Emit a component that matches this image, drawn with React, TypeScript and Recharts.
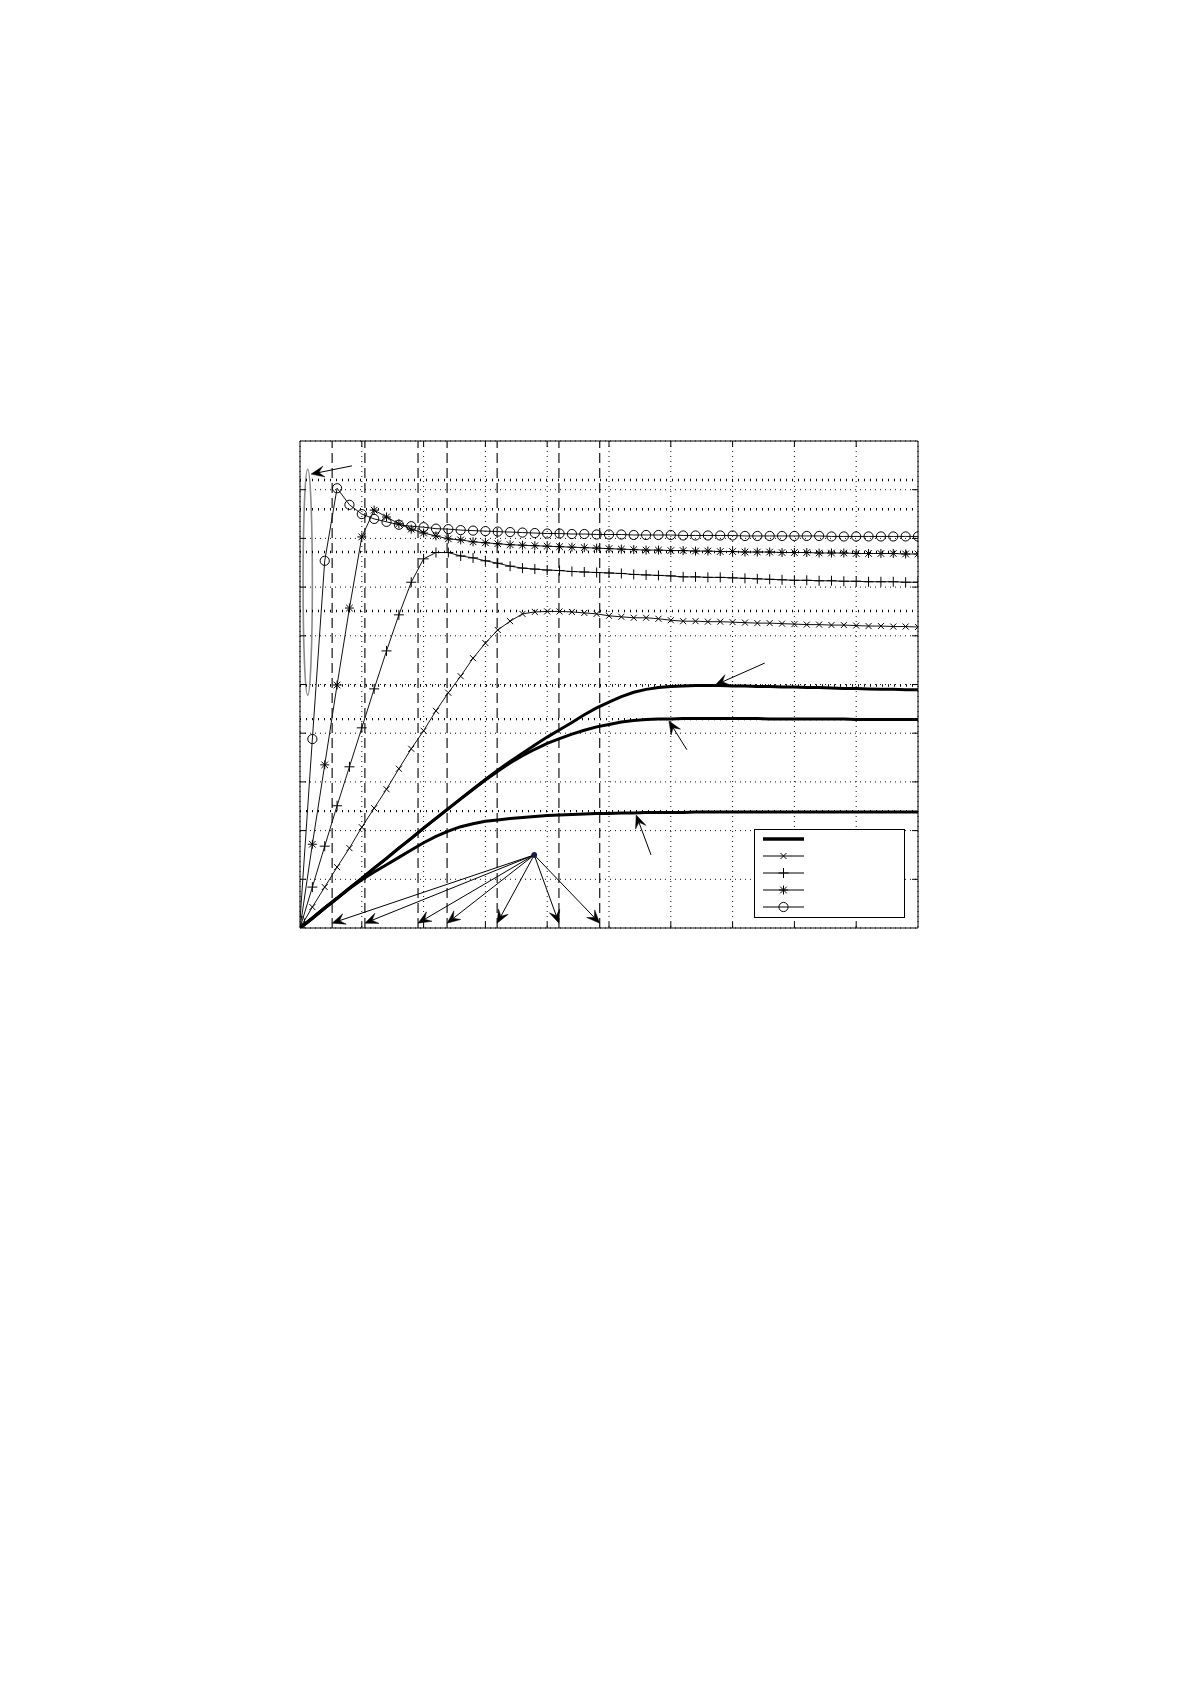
import React from 'react'
import {
  LineChart,
  Line,
  XAxis,
  YAxis,
  CartesianGrid,
  ReferenceLine,
  ReferenceArea,
  ReferenceDot,
  Legend,
} from 'recharts'

// sample instants (x axis units)
const timeSteps = [
  0, 0.2, 0.4, 0.6, 0.8, 1, 1.2, 1.4, 1.6, 1.8,
  2, 2.2, 2.4, 2.6, 2.8, 3, 3.2, 3.4, 3.6, 3.8,
  4, 4.2, 4.4, 4.6, 4.8, 5, 5.2, 5.4, 5.6, 5.8,
  6, 6.2, 6.4, 6.6, 6.8, 7, 7.2, 7.4, 7.6, 7.8,
  8, 8.2, 8.4, 8.6, 8.8, 9, 9.2, 9.4, 9.6, 9.8,
  10,
]

const thickA = [
  0, 0.2, 0.41, 0.61, 0.82, 1.02, 1.23, 1.43, 1.64, 1.84,
  2.05, 2.25, 2.45, 2.65, 2.85, 3.05, 3.24, 3.42, 3.59, 3.76,
  3.92, 4.07, 4.22, 4.38, 4.52, 4.64, 4.75, 4.84, 4.9, 4.94,
  4.96, 4.97, 4.98, 4.98, 4.98, 4.97, 4.97, 4.96, 4.96, 4.95,
  4.95, 4.94, 4.94, 4.93, 4.92, 4.92, 4.91, 4.9, 4.9, 4.89,
  4.89,
]

const thickB = [
  0, 0.2, 0.41, 0.61, 0.82, 1.02, 1.23, 1.43, 1.64, 1.84,
  2.05, 2.25, 2.45, 2.65, 2.85, 3.04, 3.22, 3.39, 3.54, 3.67,
  3.79, 3.89, 3.98, 4.06, 4.13, 4.18, 4.23, 4.26, 4.28, 4.29,
  4.29, 4.3, 4.3, 4.3, 4.3, 4.3, 4.3, 4.3, 4.29, 4.29,
  4.29, 4.29, 4.29, 4.29, 4.29, 4.28, 4.28, 4.28, 4.28, 4.28,
  4.28,
]

const thickC = [
  0, 0.2, 0.41, 0.61, 0.81, 0.99, 1.15, 1.3, 1.45, 1.6,
  1.75, 1.88, 1.99, 2.08, 2.14, 2.19, 2.22, 2.25, 2.27, 2.29,
  2.31, 2.32, 2.33, 2.34, 2.35, 2.35, 2.36, 2.36, 2.37, 2.37,
  2.37, 2.37, 2.38, 2.38, 2.38, 2.38, 2.38, 2.38, 2.38, 2.38,
  2.38, 2.38, 2.38, 2.38, 2.38, 2.38, 2.38, 2.38, 2.38, 2.38,
  2.38,
]

const crossSeries = [
  0, 0.43, 0.84, 1.25, 1.64, 2.07, 2.46, 2.85, 3.27, 3.68,
  4.05, 4.46, 4.83, 5.17, 5.54, 5.85, 6.12, 6.3, 6.45, 6.49,
  6.5, 6.5, 6.49, 6.47, 6.45, 6.41, 6.39, 6.37, 6.37, 6.35,
  6.32, 6.3, 6.3, 6.29, 6.29, 6.28, 6.27, 6.26, 6.26, 6.25,
  6.24, 6.23, 6.23, 6.22, 6.22, 6.21, 6.2, 6.2, 6.19, 6.19,
  6.18,
]

const plusSeries = [
  0, 0.84, 1.68, 2.51, 3.31, 4.11, 4.91, 5.69, 6.43, 7.1,
  7.58, 7.71, 7.71, 7.64, 7.6, 7.54, 7.49, 7.43, 7.39, 7.37,
  7.35, 7.34, 7.32, 7.31, 7.3, 7.29, 7.28, 7.26, 7.25, 7.24,
  7.23, 7.21, 7.21, 7.2, 7.2, 7.19, 7.18, 7.17, 7.16, 7.15,
  7.14, 7.14, 7.13, 7.13, 7.12, 7.12, 7.11, 7.11, 7.11, 7.1,
  7.1,
]

const starSeries = [
  0, 1.72, 3.35, 4.99, 6.57, 8.03, 8.58, 8.44, 8.3, 8.19,
  8.11, 8.05, 7.99, 7.97, 7.93, 7.91, 7.89, 7.87, 7.86, 7.85,
  7.84, 7.83, 7.82, 7.81, 7.8, 7.79, 7.78, 7.77, 7.76, 7.76,
  7.75, 7.75, 7.74, 7.74, 7.73, 7.73, 7.72, 7.72, 7.72, 7.71,
  7.71, 7.71, 7.7, 7.7, 7.7, 7.69, 7.69, 7.69, 7.69, 7.68,
  7.68,
]

const circleSeries = [
  0.15, 3.88, 7.54, 9.03, 8.69, 8.5, 8.4, 8.34, 8.28, 8.25,
  8.23, 8.2, 8.19, 8.17, 8.16, 8.15, 8.14, 8.13, 8.12, 8.11,
  8.1, 8.1, 8.09, 8.09, 8.08, 8.08, 8.08, 8.07, 8.07, 8.07,
  8.07, 8.06, 8.06, 8.06, 8.06, 8.06, 8.05, 8.05, 8.05, 8.05,
  8.05, 8.05, 8.05, 8.04, 8.04, 8.04, 8.04, 8.04, 8.04, 8.04,
  8.04,
]

const xTicks = [0, 1, 2, 3, 4, 5, 6, 7, 8, 9, 10]
const yTicks = [0, 1, 2, 3, 4, 5, 6, 7, 8, 9, 10]

// levels reached by each curve (fine dotted lines)
const peakLevels = [9.2, 8.6, 7.72, 6.51, 4.98, 4.29, 2.4]
// switching instants (dashed verticals)
const switchTimes = [0.52, 1.05, 1.91, 2.38, 3.19, 4.19, 4.85]
const hub = { x: 3.79, y: 1.5 }
const hubTipY = 0.1

const curvePointers = [
  { from: { x: 7.52, y: 5.44 }, to: { x: 6.72, y: 4.99 } },
  { from: { x: 6.26, y: 3.66 }, to: { x: 5.97, y: 4.25 } },
  { from: { x: 5.68, y: 1.5 }, to: { x: 5.44, y: 2.32 } },
  { from: { x: 0.84, y: 9.49 }, to: { x: 0.18, y: 9.32 } },
]

const spikeEllipse = { x1: 0.05, x2: 0.2, y1: 4.78, y2: 9.42 }

type MarkerKind = 'thick' | 'x' | 'plus' | 'star' | 'circle'

const legendItems: MarkerKind[] = ['thick', 'x', 'plus', 'star', 'circle']

const chartData = timeSteps.map((t, i) => ({
  t,
  a: thickA[i],
  b: thickB[i],
  c: thickC[i],
  x: crossSeries[i],
  p: plusSeries[i],
  s: starSeries[i],
  o: circleSeries[i],
}))

const ink = '#000'

function MarkerGlyph({ kind, cx, cy }: { kind: MarkerKind; cx: number; cy: number }) {
  if (kind === 'x') {
    const h = 3
    return (
      <path
        d={`M${cx - h},${cy - h}L${cx + h},${cy + h}M${cx - h},${cy + h}L${cx + h},${cy - h}`}
        stroke={ink}
        strokeWidth={1}
        fill="none"
      />
    )
  }
  if (kind === 'plus') {
    const h = 5
    return (
      <path d={`M${cx - h},${cy}L${cx + h},${cy}M${cx},${cy - h}L${cx},${cy + h}`} stroke={ink} strokeWidth={1} fill="none" />
    )
  }
  if (kind === 'star') {
    const h = 4.5
    const d = 3.3
    return (
      <path
        d={`M${cx - h},${cy}L${cx + h},${cy}M${cx},${cy - h}L${cx},${cy + h}M${cx - d},${cy - d}L${cx + d},${cy + d}M${cx - d},${cy + d}L${cx + d},${cy - d}`}
        stroke={ink}
        strokeWidth={1}
        fill="none"
      />
    )
  }
  if (kind === 'circle') {
    return <circle cx={cx} cy={cy} r={4.6} stroke={ink} strokeWidth={1} fill="none" />
  }
  return null
}

const makeDot = (kind: MarkerKind) => (props: any) => {
  const { cx, cy, index } = props
  if (cx == null || cy == null) return <g key={`${kind}-${index}`} />
  return (
    <g key={`${kind}-${index}`}>
      <MarkerGlyph kind={kind} cx={cx} cy={cy} />
    </g>
  )
}

// annotation arrow with a swept-back head
const arrowShape = (props: any) => {
  const { x1, y1, x2, y2 } = props
  const dx = x2 - x1
  const dy = y2 - y1
  const len = Math.hypot(dx, dy) || 1
  const ux = dx / len
  const uy = dy / len
  const L = 13
  const W = 5.5
  const bx = x2 - ux * L
  const by = y2 - uy * L
  const nx = x2 - ux * L * 0.6
  const ny = y2 - uy * L * 0.6
  const px = -uy
  const py = ux
  const pts = `${x2},${y2} ${bx + px * W},${by + py * W} ${nx},${ny} ${bx - px * W},${by - py * W}`
  return (
    <g>
      <line x1={x1} y1={y1} x2={nx} y2={ny} stroke={ink} strokeWidth={1} />
      <polygon points={pts} fill={ink} stroke={ink} strokeWidth={0.5} />
    </g>
  )
}

// inward tick marks at both ends of a vertical / horizontal line
const xTickShape = (props: any) => {
  const { x1, y1, y2 } = props
  const top = Math.min(y1, y2)
  const bottom = Math.max(y1, y2)
  return (
    <g>
      <line x1={x1} x2={x1} y1={top} y2={top + 6} stroke={ink} strokeWidth={1} />
      <line x1={x1} x2={x1} y1={bottom - 6} y2={bottom} stroke={ink} strokeWidth={1} />
    </g>
  )
}

const yTickShape = (props: any) => {
  const { x1, x2, y1 } = props
  const left = Math.min(x1, x2)
  const right = Math.max(x1, x2)
  return (
    <g>
      <line x1={left} x2={left + 6} y1={y1} y2={y1} stroke={ink} strokeWidth={1} />
      <line x1={right - 6} x2={right} y1={y1} y2={y1} stroke={ink} strokeWidth={1} />
    </g>
  )
}

const ellipseShape = (props: any) => {
  const { x, y, width, height } = props
  return (
    <ellipse
      cx={x + width / 2}
      cy={y + height / 2}
      rx={Math.abs(width) / 2}
      ry={Math.abs(height) / 2}
      fill="none"
      stroke="#8a8a8a"
      strokeWidth={1.6}
    />
  )
}

const LegendBox = () => (
  <svg width={151} height={89} style={{ display: 'block' }}>
    <rect x={0.5} y={0.5} width={150} height={88} fill="#fff" stroke={ink} strokeWidth={1} />
    {legendItems.map((kind, i) => {
      const y = 10 + i * 17
      return (
        <g key={kind}>
          <line x1={9} x2={50} y1={y} y2={y} stroke={ink} strokeWidth={kind === 'thick' ? 3.5 : 1} />
          <MarkerGlyph kind={kind} cx={29.5} cy={y} />
        </g>
      )
    })}
  </svg>
)

export default function App() {
  return (
    <div style={{ width: 1175, height: 1000, background: '#fff' }}>
      <LineChart
        width={1175}
        height={1000}
        data={chartData}
        margin={{ top: 433, left: 292, right: 265, bottom: 80 }}
      >
        <XAxis dataKey="t" type="number" domain={[0, 10]} ticks={xTicks} hide allowDataOverflow />
        <YAxis type="number" domain={[0, 10]} ticks={yTicks} hide allowDataOverflow />
        <CartesianGrid stroke="#111" strokeDasharray="1 4" strokeWidth={1} />

        {peakLevels.map((v) => (
          <ReferenceLine key={`lvl-${v}`} y={v} stroke="#000" strokeWidth={2.4} strokeDasharray="1 5" />
        ))}
        {switchTimes.map((v) => (
          <ReferenceLine key={`sw-${v}`} x={v} stroke="#000" strokeWidth={1.1} strokeDasharray="10 5" />
        ))}
        {xTicks.slice(1, -1).map((v) => (
          <ReferenceLine key={`xt-${v}`} x={v} shape={xTickShape} />
        ))}
        {yTicks.slice(1, -1).map((v) => (
          <ReferenceLine key={`yt-${v}`} y={v} shape={yTickShape} />
        ))}

        <Line dataKey="a" stroke={ink} strokeWidth={3} dot={false} activeDot={false} isAnimationActive={false} legendType="none" />
        <Line dataKey="b" stroke={ink} strokeWidth={3} dot={false} activeDot={false} isAnimationActive={false} legendType="none" />
        <Line dataKey="c" stroke={ink} strokeWidth={3} dot={false} activeDot={false} isAnimationActive={false} legendType="none" />
        <Line dataKey="x" stroke="#111" strokeWidth={1} dot={makeDot('x')} activeDot={false} isAnimationActive={false} legendType="none" />
        <Line dataKey="p" stroke="#111" strokeWidth={1} dot={makeDot('plus')} activeDot={false} isAnimationActive={false} legendType="none" />
        <Line dataKey="s" stroke="#111" strokeWidth={1} dot={makeDot('star')} activeDot={false} isAnimationActive={false} legendType="none" />
        <Line dataKey="o" stroke="#111" strokeWidth={1} dot={makeDot('circle')} activeDot={false} isAnimationActive={false} legendType="none" />

        <ReferenceArea {...spikeEllipse} shape={ellipseShape} />

        {switchTimes.map((v) => (
          <ReferenceLine
            key={`hub-${v}`}
            segment={[
              { x: hub.x, y: hub.y },
              { x: v, y: hubTipY },
            ]}
            shape={arrowShape}
          />
        ))}
        <ReferenceDot x={hub.x} y={hub.y} r={2.5} fill="#141a4a" stroke="#141a4a" />

        {curvePointers.map((p, i) => (
          <ReferenceLine
            key={`ptr-${i}`}
            segment={[p.from, p.to]}
            shape={arrowShape}
          />
        ))}

        <ReferenceArea x1={0} x2={10} y1={0} y2={10} fill="none" stroke={ink} strokeWidth={1} fillOpacity={0} />

        <Legend
          layout="vertical"
          align="center"
          verticalAlign="middle"
          content={LegendBox}
          wrapperStyle={{ left: 746, top: 821, width: 151, height: 89 }}
        />
      </LineChart>
    </div>
  )
}
